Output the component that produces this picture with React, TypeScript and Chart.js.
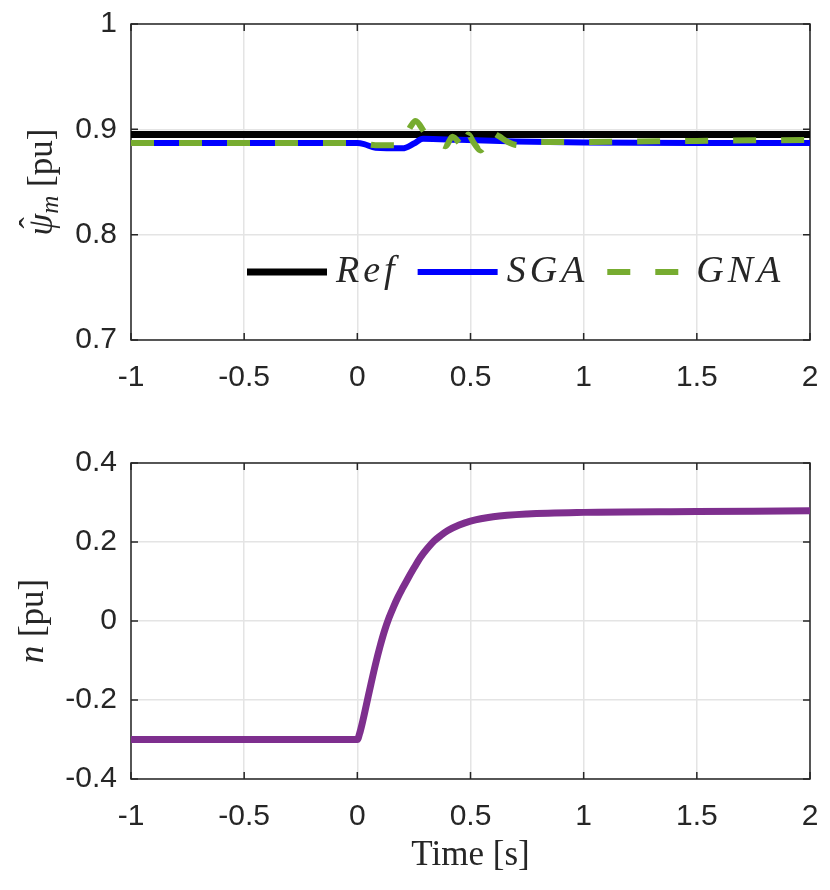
import React, { useEffect, useRef } from 'react';
import Chart from 'chart.js/auto';

// ---- data ----
const xTicks = [-1, -0.5, 0, 0.5, 1, 1.5, 2];
const xTickLabels = ['-1', '-0.5', '0', '0.5', '1', '1.5', '2'];

const psiTicks = [0.7, 0.8, 0.9, 1];
const psiTickLabels = ['0.7', '0.8', '0.9', '1'];

const nTicks = [-0.4, -0.2, 0, 0.2, 0.4];
const nTickLabels = ['-0.4', '-0.2', '0', '0.2', '0.4'];

const refTime = [-1, 2];
const refPsi = [0.895, 0.895];

const sgaTime = [-1, -0.5, 0, 0.03, 0.08, 0.2, 0.25, 0.29, 0.45, 0.7, 1.0, 1.5, 2.0];
const sgaPsi = [0.887, 0.887, 0.887, 0.886, 0.8825, 0.882, 0.8865, 0.891, 0.890, 0.8885, 0.8875, 0.887, 0.887];

const gnaTime = [-1, -0.5, 0, 0.04, 0.08, 0.177, 0.2, 0.235, 0.257, 0.3, 0.35, 0.39, 0.42, 0.45, 0.47, 0.49, 0.515, 0.545, 0.59, 0.625, 0.665, 0.71, 0.8, 1.0, 1.5, 2.0];
const gnaPsi = [0.887, 0.887, 0.887, 0.886, 0.885, 0.885, 0.888, 0.9025, 0.908, 0.8965, 0.889, 0.884, 0.893, 0.887, 0.880, 0.895, 0.887, 0.880, 0.897, 0.8935, 0.888, 0.885, 0.888, 0.888, 0.889, 0.890];

const speedTime = [-1, -0.5, 0, 0.01, 0.02, 0.04, 0.06, 0.08, 0.1, 0.12, 0.14, 0.16, 0.18, 0.2, 0.22, 0.25, 0.28, 0.31, 0.34, 0.37, 0.4, 0.45, 0.5, 0.6, 0.75, 1.0, 1.5, 2.0];
const speedN = [-0.3, -0.3, -0.3, -0.285, -0.263, -0.212, -0.16, -0.11, -0.065, -0.025, 0.008, 0.036, 0.061, 0.083, 0.104, 0.134, 0.162, 0.184, 0.203, 0.217, 0.229, 0.243, 0.253, 0.264, 0.271, 0.275, 0.277, 0.279];

const AXIS = '#262626';
const TICK_FONT = '"Liberation Sans", Arial, sans-serif';
const SERIF = '"Liberation Serif", "Times New Roman", serif';

const pts = (xs: number[], ys: number[]) => xs.map((x, i) => ({ x, y: ys[i] }));

// box + inward ticks, like matlab "box on"
const framePlugin = {
  id: 'matlabFrame',
  beforeDatasetsDraw(chart: any) {
    const { ctx, chartArea: a, scales } = chart;
    ctx.save();
    ctx.strokeStyle = AXIS;
    ctx.lineWidth = 1.5;
    ctx.beginPath();
    for (const t of scales.x.ticks) {
      const px = scales.x.getPixelForValue(t.value);
      ctx.moveTo(px, a.bottom);
      ctx.lineTo(px, a.bottom - 7);
      ctx.moveTo(px, a.top);
      ctx.lineTo(px, a.top + 7);
    }
    for (const t of scales.y.ticks) {
      const py = scales.y.getPixelForValue(t.value);
      ctx.moveTo(a.left, py);
      ctx.lineTo(a.left + 7, py);
      ctx.moveTo(a.right, py);
      ctx.lineTo(a.right - 7, py);
    }
    ctx.stroke();
    ctx.strokeRect(a.left, a.top, a.right - a.left, a.bottom - a.top);
    ctx.restore();
  },
};

type Piece = { text: string; font: string; dx?: number; dy?: number; noAdvance?: boolean };

function drawRich(ctx: CanvasRenderingContext2D, pieces: Piece[], cx: number, cy: number, rotate: boolean) {
  ctx.save();
  ctx.translate(cx, cy);
  if (rotate) ctx.rotate(-Math.PI / 2);
  ctx.fillStyle = AXIS;
  ctx.textBaseline = 'alphabetic';
  ctx.textAlign = 'left';
  let total = 0;
  for (const p of pieces) {
    ctx.font = p.font;
    if (!p.noAdvance) total += ctx.measureText(p.text).width;
  }
  let x = -total / 2;
  for (const p of pieces) {
    ctx.font = p.font;
    ctx.fillText(p.text, x + (p.dx || 0), p.dy || 0);
    if (!p.noAdvance) x += ctx.measureText(p.text).width;
  }
  ctx.restore();
}

function titlePlugin(yTitle: Piece[], yBase: number, xTitle?: Piece[], xBase?: number) {
  return {
    id: 'richTitles',
    afterDraw(chart: any) {
      const { ctx, chartArea: a } = chart;
      drawRich(ctx, yTitle, yBase, (a.top + a.bottom) / 2, true);
      if (xTitle && xBase) drawRich(ctx, xTitle, (a.left + a.right) / 2, xBase, false);
    },
  };
}

// legend drawn inside the axes, bottom right
const legendPlugin = {
  id: 'insideLegend',
  afterDatasetsDraw(chart: any) {
    const { ctx, chartArea: a } = chart;
    ctx.save();
    ctx.font = `italic 38px ${SERIF}`;
    (ctx as any).letterSpacing = '4px';
    ctx.textBaseline = 'alphabetic';
    ctx.fillStyle = AXIS;
    let x = a.left + 116;
    const yLine = a.top + 248;
    chart.data.datasets.forEach((ds: any) => {
      ctx.strokeStyle = ds.borderColor;
      ctx.lineWidth = ds.borderWidth;
      ctx.setLineDash(ds.borderDash || []);
      ctx.lineCap = 'butt';
      ctx.beginPath();
      ctx.moveTo(x, yLine);
      ctx.lineTo(x + 80, yLine);
      ctx.stroke();
      ctx.setLineDash([]);
      ctx.fillText(ds.label, x + 89, yLine + 10);
      x = x + 89 + ctx.measureText(ds.label).width + 19;
    });
    ctx.restore();
  },
};

// tick label overflow should not push the plot box around
const noScalePadding = (s: any) => {
  s.paddingLeft = 0;
  s.paddingRight = 0;
  s.paddingTop = 0;
  s.paddingBottom = 0;
};

function scalesFor(yMin: number, yMax: number, yTicks: number[], yLabels: string[], xHeight: number) {
  return {
    x: {
      type: 'linear',
      min: -1,
      max: 2,
      afterBuildTicks: (s: any) => { s.ticks = xTicks.map((v) => ({ value: v })); },
      afterFit: (s: any) => { s.height = xHeight; noScalePadding(s); },
      grid: { color: '#e4e4e4', lineWidth: 1.5, drawTicks: false },
      border: { display: false },
      ticks: {
        padding: 20,
        color: AXIS,
        font: { family: TICK_FONT, size: 30 },
        maxRotation: 0,
        callback: (v: number) => xTickLabels[xTicks.indexOf(v)] ?? '',
      },
    },
    y: {
      type: 'linear',
      min: yMin,
      max: yMax,
      afterBuildTicks: (s: any) => { s.ticks = yTicks.map((v) => ({ value: v })); },
      afterFit: (s: any) => { s.width = 131; noScalePadding(s); },
      grid: { color: '#e4e4e4', lineWidth: 1.5, drawTicks: false },
      border: { display: false },
      ticks: {
        padding: 14,
        color: AXIS,
        font: { family: TICK_FONT, size: 30 },
        callback: (v: number) => yLabels[yTicks.indexOf(v)] ?? '',
      },
    },
  };
}

function App() {
  const topRef = useRef<HTMLCanvasElement | null>(null);
  const bottomRef = useRef<HTMLCanvasElement | null>(null);

  useEffect(() => {
    const topChart =
      topRef.current &&
      new Chart(topRef.current, {
        type: 'line',
        data: {
          datasets: [
            {
              label: 'Ref',
              data: pts(refTime, refPsi),
              borderColor: '#000000',
              borderWidth: 7,
              borderCapStyle: 'round',
              pointRadius: 0,
              order: 3,
            },
            {
              label: 'SGA',
              data: pts(sgaTime, sgaPsi),
              borderColor: '#0000ff',
              borderWidth: 6,
              pointRadius: 0,
              cubicInterpolationMode: 'monotone',
              order: 2,
            },
            {
              label: 'GNA',
              data: pts(gnaTime, gnaPsi),
              borderColor: 'rgb(119,172,48)',
              borderWidth: 6,
              borderDash: [23, 25],
              borderCapStyle: 'butt',
              pointRadius: 0,
              cubicInterpolationMode: 'monotone',
              order: 1,
            },
          ],
        },
        options: {
          responsive: false,
          animation: false,
          layout: { padding: { top: 24, right: 20, left: 0, bottom: 0 } },
          plugins: { legend: { display: false }, tooltip: { enabled: false } },
          scales: scalesFor(0.7, 1, psiTicks, psiTickLabels, 60),
        } as any,
        plugins: [
          framePlugin,
          legendPlugin,
          titlePlugin(
            [
              { text: 'ˆ', font: `34px ${SERIF}`, dx: 7, dy: -9, noAdvance: true },
              { text: 'ψ', font: `italic 35px ${SERIF}` },
              { text: 'm', font: `italic 25px ${SERIF}`, dy: 6 },
              { text: ' [pu]', font: `35px ${SERIF}` },
            ],
            52
          ),
        ],
      } as any);

    const bottomChart =
      bottomRef.current &&
      new Chart(bottomRef.current, {
        type: 'line',
        data: {
          datasets: [
            {
              label: 'n',
              data: pts(speedTime, speedN),
              borderColor: 'rgb(126,47,142)',
              borderWidth: 7,
              pointRadius: 0,
              cubicInterpolationMode: 'monotone',
            },
          ],
        },
        options: {
          responsive: false,
          animation: false,
          layout: { padding: { top: 63, right: 20, left: 0, bottom: 0 } },
          plugins: { legend: { display: false }, tooltip: { enabled: false } },
          scales: scalesFor(-0.4, 0.4, nTicks, nTickLabels, 111),
        } as any,
        plugins: [
          framePlugin,
          titlePlugin(
            [
              { text: 'n', font: `italic 35px ${SERIF}` },
              { text: ' [pu]', font: `35px ${SERIF}` },
            ],
            43,
            [{ text: 'Time [s]', font: `35px ${SERIF}` }],
            465
          ),
        ],
      } as any);

    return () => {
      topChart?.destroy();
      bottomChart?.destroy();
    };
  }, []);

  return (
    <div style={{ position: 'absolute', left: 0, top: 0, width: 830, height: 890, background: '#fff' }}>
      <canvas ref={topRef} width={830} height={400} style={{ display: 'block', width: 830, height: 400 }}></canvas>
      <canvas ref={bottomRef} width={830} height={490} style={{ display: 'block', width: 830, height: 490 }}></canvas>
    </div>
  );
}

export default App;
